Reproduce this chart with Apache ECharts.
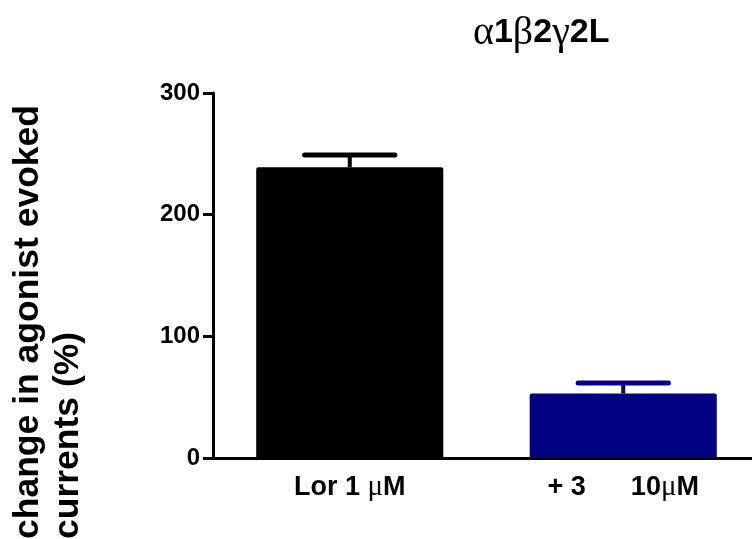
<!DOCTYPE html>
<html>
<head>
<meta charset="utf-8">
<script src="https://cdn.jsdelivr.net/npm/echarts@6/dist/echarts.min.js"></script>
<style>
  html, body { margin: 0; padding: 0; background: #fff; }
  #chart { width: 752px; height: 539px; }
</style>
</head>
<body>
<div id="chart"></div>
<script>
// Data
const categories = ['Lor 1 μM', '+ 3      10μM'];
const means = [239, 53];
const sem = [10, 8.7];
const barColors = ['#000000', '#000080'];
const yTicks = { min: 0, max: 300, interval: 100 };

const sans = 'Liberation Sans';
const serif = 'Liberation Serif';

const chart = echarts.init(document.getElementById('chart'));

// the plot runs a little past the right edge of the picture, as in the original crop
const grid = { left: 213, width: 547, top: 93, bottom: 81, outerBoundsMode: 'none' };

// wrap μ in a serif rich style, like the Symbol font in the original
const muRich = (s) => s.replace(/μ/g, '{mu|μ}');

const option = {
  animation: false,
  backgroundColor: '#ffffff',
  grid,
  xAxis: {
    type: 'category',
    data: categories,
    boundaryGap: true,
    axisLine: { lineStyle: { color: '#000', width: 3 } },
    axisTick: { alignWithLabel: true, length: 10, lineStyle: { color: '#000', width: 3 } },
    axisLabel: {
      interval: 0,
      color: '#000',
      fontFamily: sans,
      fontWeight: 'bold',
      fontSize: 27,
      margin: 15,
      formatter: muRich,
      rich: {
        mu: { fontFamily: serif, fontSize: 29, fontWeight: 'normal', color: '#000' },
      },
    },
  },
  yAxis: {
    type: 'value',
    min: yTicks.min,
    max: yTicks.max,
    interval: yTicks.interval,
    axisLine: { show: true, lineStyle: { color: '#000', width: 3 } },
    axisTick: { show: true, length: 10, lineStyle: { color: '#000', width: 3 } },
    axisLabel: {
      color: '#000',
      fontFamily: sans,
      fontWeight: 'bold',
      fontSize: 24,
      margin: 13,
    },
    splitLine: { show: false },
  },
  graphic: [
    {
      // title with greek letters in serif, digits in bold sans
      type: 'text',
      x: 473,
      y: 33,
      style: {
        text: '{g|α}{b|1}{g|β}{b|2}{g|γ}{b|2L}',
        verticalAlign: 'middle',
        rich: {
          g: { fontFamily: serif, fontSize: 40, fill: '#000' },
          b: { fontFamily: sans, fontSize: 34, fontWeight: 'bold', fill: '#000' },
        },
      },
    },
    {
      // y-axis title, two lines reading bottom to top
      type: 'text',
      x: 8,
      y: 539,
      rotation: Math.PI / 2,
      style: {
        text: 'change in agonist evoked\ncurrents (%)',
        font: 'bold 35.5px ' + sans,
        lineHeight: 40,
        fill: '#000',
        align: 'left',
        verticalAlign: 'top',
      },
    },
  ],
  series: [
    {
      type: 'bar',
      barWidth: '68.4%',
      data: means.map((v, i) => ({
        value: v,
        itemStyle: { color: barColors[i], borderRadius: [2, 2, 0, 0] },
      })),
      z: 2,
    },
    {
      type: 'custom',
      z: 3,
      data: means.map((v, i) => [i, v, v + sem[i]]),
      renderItem: (params, api) => {
        const i = api.value(0);
        const base = api.coord([i, api.value(1)]);
        const top = api.coord([i, api.value(2)]);
        const half = api.size([1, 0])[0] * 0.165;
        const color = barColors[params.dataIndex];
        return {
          type: 'group',
          children: [
            {
              type: 'line',
              shape: { x1: base[0], y1: base[1], x2: top[0], y2: top[1] },
              style: { stroke: color, lineWidth: 4 },
            },
            {
              type: 'line',
              shape: { x1: top[0] - half, y1: top[1], x2: top[0] + half, y2: top[1] },
              style: { stroke: color, lineWidth: 5, lineCap: 'round' },
            },
          ],
        };
      },
    },
  ],
};

chart.setOption(option);
</script>
</body>
</html>
